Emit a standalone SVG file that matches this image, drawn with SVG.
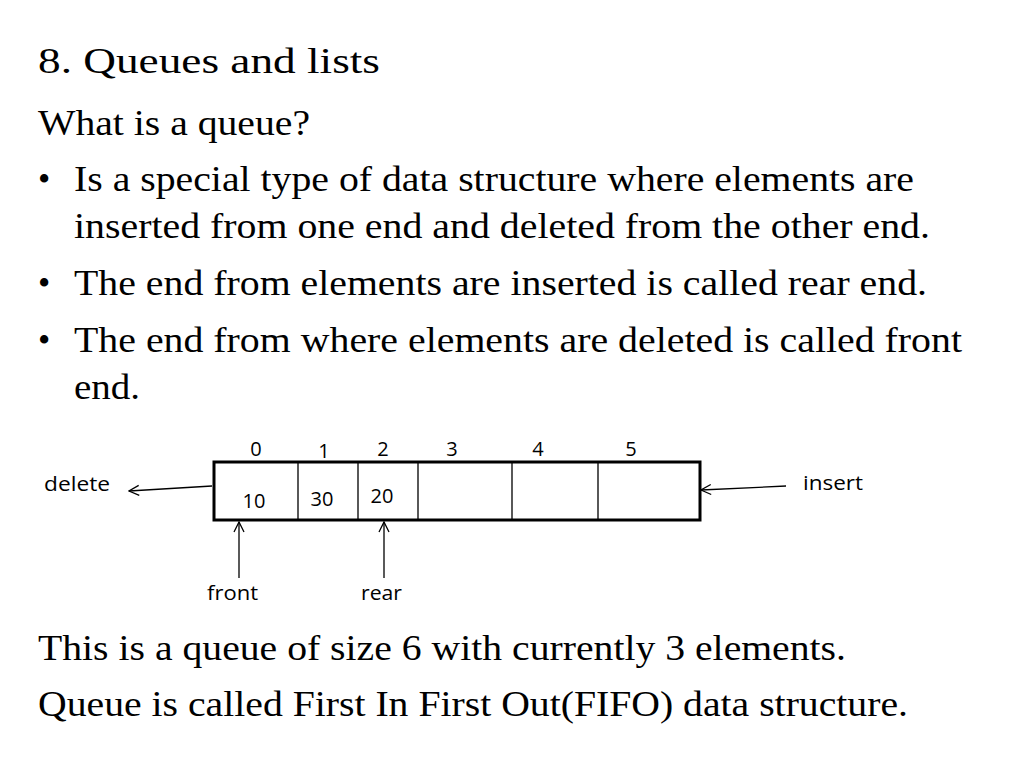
<svg xmlns="http://www.w3.org/2000/svg" width="1024" height="768" viewBox="0 0 1024 768">
<style>
.t{font-family:"Liberation Serif",serif;font-size:35px;fill:#000}
.s{font-family:"Open Sans","Liberation Sans",sans-serif;font-size:20px;fill:#000}
.c{stroke:#000;stroke-width:1.3;fill:none}
</style>
<defs><marker id="a" viewBox="0 0 12 12" refX="11" refY="6" markerWidth="12" markerHeight="12" markerUnits="userSpaceOnUse" orient="auto"><path d="M1,1 L11,6 L1,11" fill="none" stroke="#000" stroke-width="1.3"/></marker></defs>
<rect width="1024" height="768" fill="#fff"/>
<g id="text">
<text class="t" x="38" y="73" font-size="40" textLength="342" lengthAdjust="spacingAndGlyphs">8. Queues and lists</text>
<text class="t" x="38" y="135" textLength="272" lengthAdjust="spacingAndGlyphs">What is a queue?</text>
<text class="t" x="38" y="191">•</text><text class="t" x="74" y="191" textLength="840" lengthAdjust="spacingAndGlyphs">Is a special type of data structure where elements are</text>
<text class="t" x="74" y="238" textLength="856" lengthAdjust="spacingAndGlyphs">inserted from one end and deleted from the other end.</text>
<text class="t" x="38" y="295">•</text><text class="t" x="74" y="295" textLength="853" lengthAdjust="spacingAndGlyphs">The end from elements are inserted is called rear end.</text>
<text class="t" x="38" y="352">•</text><text class="t" x="74" y="352" textLength="888" lengthAdjust="spacingAndGlyphs">The end from where elements are deleted is called front</text>
<text class="t" x="74" y="399" textLength="66" lengthAdjust="spacingAndGlyphs">end.</text>
<text class="t" x="38" y="660" textLength="808" lengthAdjust="spacingAndGlyphs">This is a queue of size 6 with currently 3 elements.</text>
<text class="t" x="38" y="716" textLength="870" lengthAdjust="spacingAndGlyphs">Queue is called First In First Out(FIFO) data structure.</text>
</g>
<g id="queue">
<rect x="214" y="462" width="486" height="58" fill="#fff" stroke="#000" stroke-width="3"/>
<path class="c" d="M298,462V520M358,462V520M418,462V520M512,462V520M598,462V520"/>
<text class="s" x="256" y="456" text-anchor="middle">0</text>
<text class="s" x="324" y="458" text-anchor="middle">1</text>
<text class="s" x="383" y="456" text-anchor="middle">2</text>
<text class="s" x="452" y="456" text-anchor="middle">3</text>
<text class="s" x="538" y="456" text-anchor="middle">4</text>
<text class="s" x="631" y="456" text-anchor="middle">5</text>
<text class="s" x="254" y="508" text-anchor="middle">10</text>
<text class="s" x="322" y="506" text-anchor="middle">30</text>
<text class="s" x="382" y="503" text-anchor="middle">20</text>
</g>
<g id="labels">
<text class="s" x="44" y="491" textLength="66" lengthAdjust="spacingAndGlyphs">delete</text>
<text class="s" x="803" y="490" textLength="60" lengthAdjust="spacingAndGlyphs">insert</text>
<text class="s" x="207" y="600" textLength="51" lengthAdjust="spacingAndGlyphs">front</text>
<text class="s" x="361" y="600" textLength="41" lengthAdjust="spacingAndGlyphs">rear</text>
</g>
<g id="connectors">
<line class="c" x1="212" y1="486" x2="129" y2="491" marker-end="url(#a)"/>
<line class="c" x1="786" y1="486" x2="701" y2="490" marker-end="url(#a)"/>
<line class="c" x1="239" y1="578" x2="239" y2="522" marker-end="url(#a)"/>
<line class="c" x1="384" y1="578" x2="384" y2="522" marker-end="url(#a)"/>
</g>
</svg>
